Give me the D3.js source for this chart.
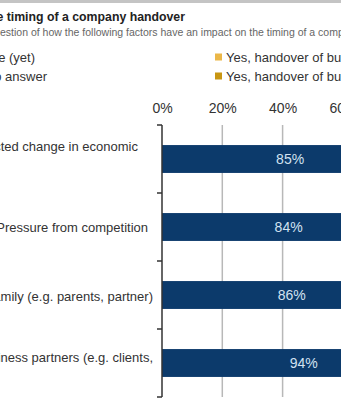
<!DOCTYPE html>
<html>
<head>
<meta charset="utf-8">
<script src="https://cdn.jsdelivr.net/npm/d3@7"></script>
<style>
  html, body { margin: 0; padding: 0; background: #fff; }
  svg { display: block; font-family: "Liberation Sans", Arial, sans-serif; }
</style>
</head>
<body>
<svg id="chart" width="341" height="400"></svg>
<script>
// Factors and the share answering "No influence (yet)"
const categories = [
  "Expected change in economic",
  "Pressure from competition",
  "Family (e.g.  parents, partner)",
  "Business partners (e.g. clients,"
];
const noInfluence = [85, 84, 86, 94];
const tickValues = [0, 20, 40, 60, 80, 100];
const legendLeft = ["No influence (yet)", "No answer"];
const legendRight = ["Yes, handover of business earlier", "Yes, handover of business later"];
const legendRightColors = ["#ebb748", "#c89612"];

const title = "Factors affecting the timing of a company handover";
const subtitle = "Question of how the following factors have an impact on the timing of a company handover";

const svg = d3.select("#chart");

// top rule
svg.append("rect").attr("x", 0).attr("y", 0).attr("width", 341).attr("height", 3).attr("fill", "#c4c4c4");

// headings (the panel's left part lies outside the view)
svg.append("text").attr("x", 185).attr("y", 21).attr("text-anchor", "end")
  .attr("font-size", 12.3).attr("font-weight", "bold").attr("fill", "#222").text(title);
svg.append("text").attr("x", -14).attr("y", 36)
  .attr("font-size", 10.5).attr("fill", "#666").text(subtitle);

// legend
const legendY = [57, 76];
legendLeft.forEach((t, i) => {
  svg.append("text").attr("x", i === 0 ? 35 : 47).attr("y", legendY[i] + 4.5)
    .attr("text-anchor", "end").attr("font-size", 13).attr("fill", "#333").text(t);
});
legendRight.forEach((t, i) => {
  svg.append("rect").attr("x", 215).attr("y", legendY[i] - 3.5).attr("width", 7).attr("height", 7)
    .attr("fill", legendRightColors[i]);
  svg.append("text").attr("x", 226).attr("y", legendY[i] + 4.5)
    .attr("font-size", 13).attr("fill", "#333").text(t);
});

// scales
const x = d3.scaleLinear().domain([0, 100]).range([162, 463.5]);
const y = d3.scaleBand().domain(categories).range([125, 397]).paddingInner(0.59).paddingOuter(0.295);

// grid lines
svg.append("g").selectAll("line").data(tickValues.filter(d => d > 0)).join("line")
  .attr("x1", d => x(d)).attr("x2", d => x(d)).attr("y1", 125).attr("y2", 397)
  .attr("stroke", "#b8b8b8").attr("stroke-width", 1.5);

// top axis labels
const axis = svg.append("g").attr("transform", "translate(0,113)")
  .call(d3.axisTop(x).tickValues(tickValues).tickSize(0).tickPadding(0).tickFormat(d => d + "%"));
axis.select(".domain").remove();
axis.selectAll("text").attr("font-size", 14).attr("fill", "#333")
  .attr("font-family", "'Liberation Sans', Arial, sans-serif").attr("dy", 0);

// bars
svg.append("g").selectAll("rect").data(categories).join("rect")
  .attr("x", x(0)).attr("y", d => y(d))
  .attr("width", (d, i) => x(noInfluence[i]) - x(0)).attr("height", y.bandwidth())
  .attr("fill", "#0c3a6b");

// value labels
svg.append("g").selectAll("text").data(categories).join("text")
  .attr("x", (d, i) => (x(0) + x(noInfluence[i])) / 2)
  .attr("y", d => y(d) + y.bandwidth() / 2 + 5)
  .attr("text-anchor", "middle").attr("font-size", 14).attr("fill", "#d3e2f1")
  .text((d, i) => noInfluence[i] + "%");

// category axis
const step = y.step();
const edges = d3.range(categories.length + 1).map(i => 125 + i * step);
svg.append("line").attr("x1", 162).attr("x2", 162).attr("y1", 125).attr("y2", 397)
  .attr("stroke", "#333").attr("stroke-width", 1.5);
svg.append("g").selectAll("line").data(edges).join("line")
  .attr("x1", 157).attr("x2", 162).attr("y1", d => d).attr("y2", d => d)
  .attr("stroke", "#333").attr("stroke-width", 1.5);

// category labels
const labelRight = [138, 148, 153, 153];
const labelShift = [-13, 0, 1, -6];
svg.append("g").selectAll("text").data(categories).join("text")
  .attr("x", (d, i) => labelRight[i])
  .attr("y", (d, i) => y(d) + y.bandwidth() / 2 + labelShift[i] + 4.6)
  .attr("text-anchor", "end").attr("font-size", 13).attr("fill", "#333")
  .text(d => d);
</script>
</body>
</html>
